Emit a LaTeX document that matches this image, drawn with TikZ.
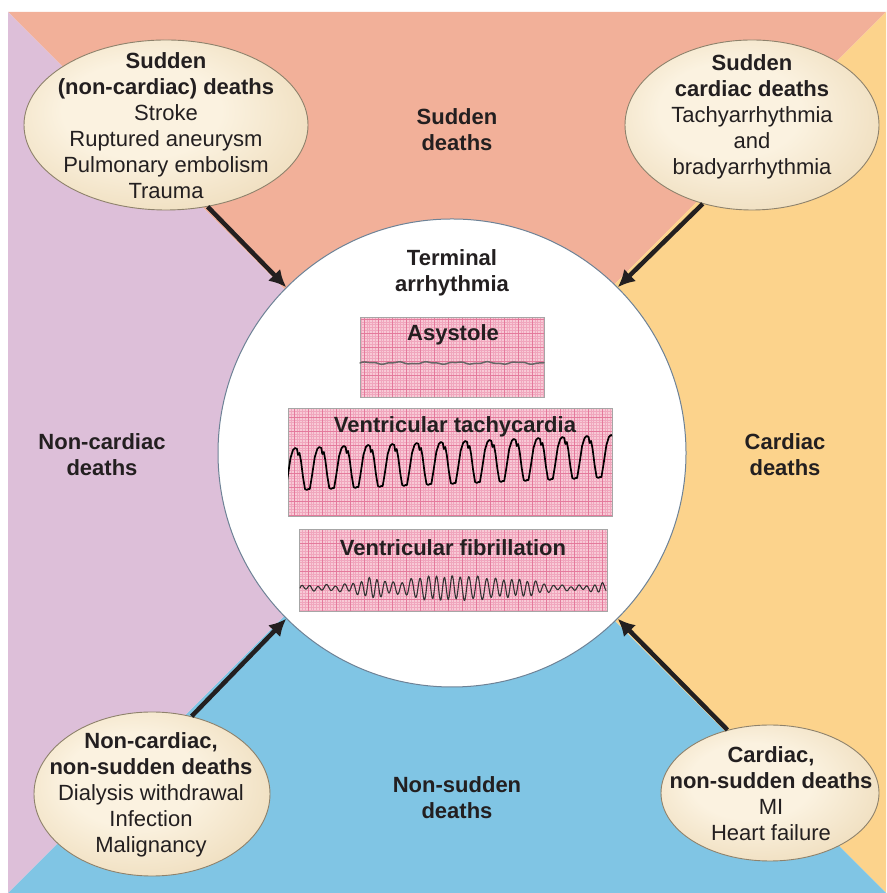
\documentclass[tikz,border=0pt]{standalone}
\usepackage{fontspec}
\setmainfont{Liberation Sans}
\usetikzlibrary{shapes.geometric}
\usetikzlibrary{arrows.meta}
\usetikzlibrary{positioning}

\definecolor{sudden}{HTML}{F2B099}
\definecolor{noncard}{HTML}{DDBFD9}
\definecolor{card}{HTML}{FCD38C}
\definecolor{nonsud}{HTML}{80C5E4}
\definecolor{ovalin}{HTML}{FBF2E0}
\definecolor{ovalmid}{HTML}{EEDCBB}
\definecolor{ovalout}{HTML}{D4BB90}
\definecolor{ovalline}{HTML}{8E826C}
\definecolor{rim}{HTML}{6E8296}
\definecolor{paper}{HTML}{F8CAD6}
\definecolor{gridmin}{HTML}{F0A6BD}
\definecolor{gridmaj}{HTML}{E47A9C}
\definecolor{ink}{HTML}{231F20}

\pgfdeclareradialshading{ovalshade}{\pgfpoint{-6bp}{6bp}}{%
  color(0bp)=(ovalin); color(14bp)=(ovalin); color(32bp)=(ovalmid);
  color(50bp)=(ovalout)}

\tikzset{
  lbl/.style={font=\fontsize{22}{26}\selectfont, text=ink, align=center, inner sep=0pt},
  head/.style={lbl, font=\fontsize{22}{26}\selectfont\bfseries},
  oval/.style={ellipse, shading=ovalshade, draw=ovalline, line width=0.9pt, inner sep=0pt},
  strip/.style={draw=black!35, line width=0.8pt},
  feed/.style={ink, line width=4.5pt, -{Latex[length=17pt,width=17pt]}},
  trace/.style={line join=round, line cap=round}
}

\begin{document}
\begin{tikzpicture}[x=1pt,y=1pt]
\useasboundingbox (0,0) rectangle (886,893);

% four kinds of death
\coordinate (mid) at (447,440.5);
\fill[sudden] (8,881) -- (886,881) -- (mid) -- cycle;
\fill[card] (886,881) -- (886,0) -- (mid) -- cycle;
\fill[nonsud] (886,0) -- (8,0) -- (mid) -- cycle;
\fill[noncard] (8,0) -- (8,881) -- (mid) -- cycle;

\node[head] (sud) at (457,763) {Sudden\\deaths};
\node[head] (noncd) at (102,438) {Non-cardiac\\deaths};
\node[head] (cd) at (785,438) {Cardiac\\deaths};
\node[head] (nonsd) at (457,95) {Non-sudden\\deaths};

% terminal arrhythmia
\node[circle, fill=white, draw=rim, line width=1pt, minimum size=468pt,
  inner sep=0pt] (term) at (452,440) {};
\node[head, below=31pt of term.north] (termlbl) {Terminal\\arrhythmia};

\foreach \xa/\ya/\xb/\yb in {360/496/544/576, 288/377/612/485, 299/282/607/364} {
  \fill[paper] (\xa,\ya) rectangle (\xb,\yb);
  \draw[gridmin, line width=0.3pt] (\xa,\ya) grid[step=2.8] (\xb,\yb);
  \draw[gridmaj, line width=0.55pt] (\xa,\ya) grid[step=14] (\xb,\yb);
  \draw[strip] (\xa,\ya) rectangle (\xb,\yb);
}

\node[head] (asys) at (453,558) {Asystole};
\node[head] (vtach) at (455,466) {Ventricular tachycardia};
\node[head] (vfib) at (453,345) {Ventricular fibrillation};

\draw[trace, black!60, line width=1.5pt] plot[domain=360:544, samples=120]
  (\x, {530 + 0.9*sin((\x-360)*12) + 0.4*sin((\x-360)*29)});

\begin{scope}
\clip (288,377) rectangle (612,485);
\draw[trace, black, line width=1.7pt] (284,403) \foreach \k in {1,...,14} {
  -- ++(1.5,0) -- ++(2,12) -- ++(3,20) -- ++(2.5,8) -- ++(2,2) -- ++(2,-1)
  -- ++(1,-6) -- ++(1.5,2) -- ++(1.5,-8) -- ++(2,-16) -- ++(2,-12)
  -- ++(1.8,-1) -- ++(1.5,1) };
\end{scope}

\draw[trace, black!80, line width=1.1pt] plot[domain=300:606, samples=420]
  (\x, {305 + (1.8 + 8/(1+((\x-372)/14)*((\x-372)/14))
   + 9.5/(1+((\x-452)/44)*((\x-452)/44)*((\x-452)/44)*((\x-452)/44)*((\x-452)/44)*((\x-452)/44))
   + 5.5/(1+((\x-520)/22)*((\x-520)/22)*((\x-520)/22)*((\x-520)/22))
   + 3/(1+((\x-600)/6)*((\x-600)/6)))
   * sin((\x-300)*43 + 40*sin((\x-300)*5)) + 1*sin((\x-300)*17)});

% causes
\node[oval, minimum width=284pt, minimum height=170pt] (sudnc) at (166,768) {};
\node[lbl] (sudnc-t) at (166,767)
  {\textbf{Sudden}\\\textbf{(non-cardiac) deaths}\\Stroke\\Ruptured aneurysm\\Pulmonary embolism\\Trauma};

\node[oval, minimum width=254pt, minimum height=170pt] (sudc) at (752,768) {};
\node[lbl] (sudc-t) at (752,776)
  {\textbf{Sudden}\\\textbf{cardiac deaths}\\Tachyarrhythmia\\and\\bradyarrhythmia};

\node[oval, minimum width=236pt, minimum height=164pt] (nsudnc) at (152,99) {};
\node[lbl] (nsudnc-t) at (151,98.5)
  {\textbf{Non-cardiac,}\\\textbf{non-sudden deaths}\\Dialysis withdrawal\\Infection\\Malignancy};

\node[oval, minimum width=218pt, minimum height=136pt] (nsudc) at (770,100) {};
\node[lbl] (nsudc-t) at (771,99.5)
  {\textbf{Cardiac,}\\\textbf{non-sudden deaths}\\MI\\Heart failure};

\draw[feed] (sudnc.-63) -- (term.135);
\draw[feed] (sudc.238) -- (term.45);
\draw[feed] (nsudnc.63) -- (term.225);
\draw[feed] (nsudc.124) -- (term.-45);
\end{tikzpicture}
\end{document}
